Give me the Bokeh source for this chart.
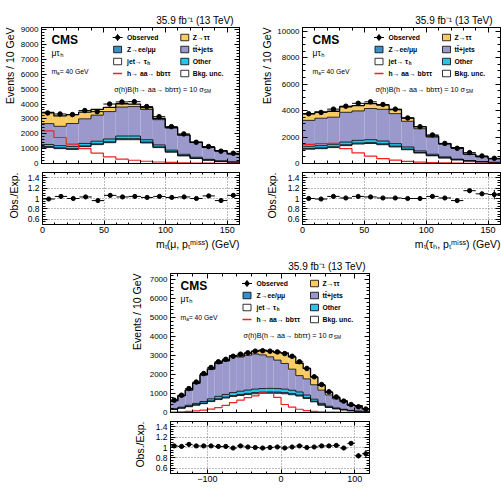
import numpy as np
from bokeh.plotting import figure
from bokeh.models import (Label, Range1d, LinearAxis, SingleIntervalTicker, FixedTicker,
                          CustomJSTickFormatter, Spacer, Title)
from bokeh.layouts import column, row
from bokeh.embed import file_html
from bokeh.resources import INLINE

FONT = "Liberation Sans"
C_ZTT = "#f8cb63"
C_TT = "#9b98cc"
C_OTHER = "#25c6ea"
C_ZLL = "#3a8fc9"
C_FAKE = "#ffffff"
C_SIG = "#ee2222"

# ---------------- data ----------------
# panel 1 : mT(mu, ptmiss), 10 GeV bins from 0 to 160
edges1 = [0, 10, 20, 30, 40, 50, 60, 70, 80, 90, 100, 110, 120, 130, 140, 150, 160]
obs1 = [3400, 3330, 3290, 3560, 3490, 4000, 4140, 4160, 3830, 3150, 2480, 1990, 1430, 1140, 830, 690]
ratio1 = [0.99, 1.04, 1.00, 1.03, 0.96, 1.06, 1.03, 1.04, 1.02, 1.04, 1.02, 1.03, 1.00, 1.05, 0.96, 1.06]
ratio1_err = [0.02, 0.02, 0.02, 0.02, 0.02, 0.02, 0.02, 0.02, 0.02, 0.02, 0.02, 0.025, 0.03, 0.03, 0.035, 0.04]
fake1 = [1080, 1000, 950, 1130, 1270, 1400, 1600, 1600, 1380, 1070, 760, 510, 340, 220, 140, 85]
zll1 = [60, 55, 50, 50, 55, 60, 70, 70, 60, 45, 35, 25, 15, 10, 8, 5]
other1 = [140, 145, 150, 170, 175, 190, 180, 180, 160, 135, 105, 85, 65, 50, 32, 20]
tt1 = [1404, 1302, 1540, 1656, 1755, 1844, 1949, 1980, 2035, 1699, 1481, 1282, 990, 794, 677, 536]
ztt1 = [750, 700, 600, 450, 380, 280, 220, 170, 120, 80, 50, 30, 20, 12, 8, 5]
sig1 = [2200, 1750, 1300, 1000, 700, 450, 300, 220, 150, 100, 70, 50, 35, 25, 18, 12]

# panel 2 : mT(tau_h, ptmiss)
edges2 = [0, 10, 20, 30, 40, 50, 60, 70, 80, 90, 100, 110, 120, 130, 140, 150, 160]
obs2 = [3760, 3860, 4110, 4330, 4550, 4660, 4460, 4110, 3440, 2780, 2160, 1520, 1150, 820, 570, 390]
ratio2 = [1.00, 0.99, 1.04, 1.01, 1.04, 1.03, 1.01, 1.01, 1.00, 1.00, 1.04, 1.01, 0.96, 1.15, 1.09, 1.075]
ratio2_err = [0.02, 0.02, 0.02, 0.02, 0.02, 0.02, 0.02, 0.02, 0.02, 0.02, 0.02, 0.025, 0.03, 0.03, 0.04, 0.09]
fake2 = [1080, 1120, 1200, 1350, 1470, 1510, 1420, 1250, 1040, 790, 580, 410, 270, 180, 115, 75]
zll2 = [60, 60, 65, 70, 70, 70, 70, 60, 50, 40, 30, 25, 15, 10, 7, 5]
other2 = [160, 170, 185, 200, 210, 220, 210, 190, 160, 120, 90, 65, 45, 30, 18, 10]
tt2 = [1960, 2070, 2050, 2250, 2225, 2355, 2395, 2270, 1940, 1680, 1297, 955, 838, 473, 373, 268]
ztt2 = [500, 480, 450, 420, 400, 370, 320, 300, 250, 150, 80, 50, 30, 20, 10, 5]
sig2 = [1450, 1500, 1530, 1120, 800, 550, 370, 250, 160, 100, 60, 40, 25, 15, 10, 6]

# panel 3 : D_zeta, 10 GeV bins from -150 to 120
edges3 = [-150, -140, -130, -120, -110, -100, -90, -80, -70, -60, -50, -40, -30, -20, -10,
          0, 10, 20, 30, 40, 50, 60, 70, 80, 90, 100, 110, 120]
obs3 = [650, 910, 1260, 1600, 2050, 2370, 2670, 2800, 2960, 3070, 3140, 3230, 3250, 3230,
        3190, 3100, 2960, 2670, 2320, 1880, 1470, 1090, 820, 600, 420, 300, 180]
ratio3 = [1.03, 1.02, 1.06, 1.03, 1.03, 1.03, 1.02, 1.02, 0.99, 1.03, 1.01, 1.00, 0.99, 1.00,
          1.01, 0.99, 1.01, 1.03, 1.00, 1.01, 1.03, 1.03, 1.04, 0.99, 1.08, 0.84, 0.88]
ratio3_err = [0.03, 0.025, 0.02, 0.02, 0.02, 0.02, 0.02, 0.02, 0.02, 0.02, 0.02, 0.02, 0.02, 0.02,
              0.02, 0.02, 0.02, 0.02, 0.02, 0.02, 0.025, 0.03, 0.03, 0.035, 0.04, 0.05, 0.07]
fake3 = [160, 225, 305, 385, 465, 575, 680, 760, 840, 895, 945, 985, 1010, 1015, 1010, 985,
         935, 865, 735, 560, 385, 265, 190, 135, 88, 56, 32]
zll3 = [10, 14, 19, 24, 29, 36, 43, 48, 53, 56, 59, 62, 63, 64, 63, 62, 59, 54, 46, 35, 24,
        17, 12, 9, 6, 4, 2]
other3 = [30, 41, 56, 71, 86, 109, 127, 142, 157, 169, 176, 183, 187, 191, 187, 183, 176, 161,
          139, 105, 71, 48, 38, 26, 16, 10, 6]
tt3 = [426, 604, 797, 1055, 1385, 1551, 1733, 1755, 1890, 1801, 1829, 1850, 1773, 1660, 1498,
       1351, 1111, 862, 850, 761, 697, 598, 478, 396, 259, 277, 160]
ztt3 = [5, 8, 12, 18, 25, 30, 35, 40, 50, 60, 100, 150, 250, 300, 400, 550, 650, 650, 550,
        400, 250, 130, 70, 40, 20, 10, 5]
sig3 = [20, 40, 60, 90, 130, 180, 260, 380, 520, 650, 780, 880, 1030, 1000, 800, 420, 280, 170,
        100, 60, 40, 25, 15, 10, 5, 3, 2]

# axis / title texts
lumi_text = "35.9 fb\u207b\u00b9  (13 TeV)"
ylabel_main = "Events / 10 GeV"
ylabel_ratio = "Obs./Exp."
xlabel1 = "m\u209c(\u03bc, p\u209c\u1d50\u2071\u02e2\u02e2) (GeV)"
xlabel2 = "m\u209c(\u03c4\u2095, p\u209c\u1d50\u2071\u02e2\u02e2) (GeV)"

# ---------------- text helpers ----------------
W = {' ': 0.278, '(': 0.333, ')': 0.333, ',': 0.278, '.': 0.278, '/': 0.278, '-': 0.333,
     '=': 0.584, '+': 0.584, 'B': 0.667, 'C': 0.722, 'D': 0.722, 'E': 0.667, 'G': 0.778,
     'M': 0.833, 'O': 0.778, 'S': 0.667, 'T': 0.611, 'V': 0.667, 'Z': 0.611,
     'a': 0.556, 'b': 0.556, 'c': 0.5, 'd': 0.556, 'e': 0.556, 'f': 0.278, 'h': 0.556,
     'i': 0.222, 'j': 0.222, 'k': 0.5, 'm': 0.833, 'n': 0.556, 'o': 0.556, 'p': 0.556,
     'r': 0.333, 's': 0.5, 't': 0.278, 'u': 0.556, 'v': 0.5, 'x': 0.5,
     '\u03bc': 0.576, '\u03c4': 0.45, '\u03c3': 0.6, '\u03b6': 0.45, '\u2192': 1.0, '\u0304': 0.0}


def tw(s, size, bold=False):
    w = sum(W.get(c, 0.556) for c in s) * size
    return w * (1.07 if bold else 1.0)


def dx(g, px):
    return g['x0'] + (px - g['L']) / (g['R'] - g['L']) * (g['x1'] - g['x0'])


def dy(g, py):
    return g['y0'] + (g['B'] - py) / (g['B'] - g['T']) * (g['y1'] - g['y0'])


def lab(p, g, x, y, text, size, bold=False, color="black", align="left", angle=0.0):
    p.add_layout(Label(x=dx(g, x), y=dy(g, y), text=text, text_font=FONT,
                       text_font_size="%.1fpx" % size,
                       text_font_style="bold" if bold else "normal",
                       text_color=color, text_align=align, text_baseline="middle",
                       angle=angle))


def rich(p, g, x, y, pieces, size, bold=False, align="left"):
    ss = size * 0.68

    def pw(pc):
        t, k = pc
        if k == "n":
            return tw(t, size, bold)
        return tw(t, ss, bold)

    total = sum(pw(pc) for pc in pieces)
    cx = x - total if align == "right" else x
    for pc in pieces:
        t, k = pc
        if k == "sub":
            lab(p, g, cx, y + 0.32 * size, t, ss, bold)
        elif k == "sup":
            lab(p, g, cx, y - 0.45 * size, t, ss, bold)
        else:
            lab(p, g, cx, y, t, size, bold)
        cx += pw(pc)


def side_title(p, text, loc, size, align, standoff, offset=0):
    p.add_layout(Title(text=text, align=align, text_font=FONT, text_font_size="%.1fpx" % size,
                       text_font_style="normal", text_color="black", standoff=standoff,
                       offset=offset), loc)


# ---------------- figure helpers ----------------
def make_fig(w, h, g):
    p = figure(width=w, height=h, title=None, x_range=Range1d(g['x0'], g['x1']),
               y_range=Range1d(g['y0'], g['y1']), output_backend="svg", toolbar_location=None,
               min_border_left=g['L'], min_border_right=w - g['R'], min_border_top=g['T'],
               min_border_bottom=h - g['B'])
    p.outline_line_color = "black"
    p.outline_line_width = 1
    p.background_fill_color = "white"
    p.border_fill_color = "white"
    return p


def style_axis(ax, ticker, fmt=None, size="8px", major_in=5, minor_in=3, labels=True, standoff=3):
    ax.ticker = ticker
    ax.major_tick_in = major_in
    ax.major_tick_out = 0
    ax.minor_tick_in = minor_in
    ax.minor_tick_out = 0
    ax.axis_line_color = "black"
    ax.major_tick_line_color = "black"
    ax.minor_tick_line_color = "black"
    if labels:
        if fmt is not None:
            ax.formatter = fmt
        ax.major_label_text_font = FONT
        ax.major_label_text_font_size = size
        ax.major_label_standoff = standoff
        ax.major_label_text_color = "black"
    else:
        ax.formatter = CustomJSTickFormatter(code="return '';")
        ax.major_label_text_font_size = "0px"
        ax.major_label_standoff = 0


def add_blank(p, loc, ticker, major_in, minor_in):
    ax = LinearAxis()
    style_axis(ax, ticker, major_in=major_in, minor_in=minor_in, labels=False)
    p.add_layout(ax, loc)


def draw_main(p, g, edges, obs, layers, sig):
    lo = np.array(edges[:-1], dtype=float)
    hi = np.array(edges[1:], dtype=float)
    bottom = np.zeros(len(lo))
    tops = []
    for vals, color in layers:
        top = bottom + np.array(vals, dtype=float)
        p.quad(left=lo, right=hi, bottom=bottom, top=top, fill_color=color, line_color=None)
        tops.append(top)
        bottom = top
    for i, top in enumerate(tops):
        p.step(x=list(edges), y=list(top) + [top[-1]], mode="after", line_color="black",
               line_width=1.3 if i == len(tops) - 1 else 0.8)
    p.step(x=list(edges), y=list(sig) + [sig[-1]], mode="after", line_color=C_SIG, line_width=1.2)
    cen = (lo + hi) / 2
    p.segment(x0=lo, x1=hi, y0=obs, y1=obs, line_color="black", line_width=1)
    p.scatter(x=cen, y=obs, size=4.5, marker="circle", color="black")


def draw_ratio(p, edges, ratio, err):
    lo = np.array(edges[:-1], dtype=float)
    hi = np.array(edges[1:], dtype=float)
    cen = (lo + hi) / 2
    r = np.array(ratio)
    e = np.array(err)
    p.segment(x0=lo, x1=hi, y0=r, y1=r, line_color="black", line_width=1)
    p.segment(x0=cen, x1=cen, y0=r - e, y1=r + e, line_color="black", line_width=1)
    p.scatter(x=cen, y=r, size=4.2, marker="circle", color="black")


def legend(p, g):
    fx, fy = g['L'], g['T']
    sx = (g['x1'] - g['x0']) / (g['R'] - g['L'])
    sy = (g['y1'] - g['y0']) / (g['B'] - g['T'])
    rows = [fy + 10, fy + 22, fy + 34, fy + 46]
    mx = fx + 76.5
    rx = fx + 144

    def box(cx, cy, color):
        p.rect(x=[dx(g, cx)], y=[dy(g, cy)], width=8 * sx, height=6.5 * sy,
               fill_color=color, line_color="black", line_width=0.8)

    # observed
    p.segment(x0=[dx(g, mx - 5)], x1=[dx(g, mx + 5)], y0=[dy(g, rows[0])], y1=[dy(g, rows[0])],
              line_color="black", line_width=1)
    p.segment(x0=[dx(g, mx)], x1=[dx(g, mx)], y0=[dy(g, rows[0] - 3.5)], y1=[dy(g, rows[0] + 3.5)],
              line_color="black", line_width=1)
    p.scatter(x=[dx(g, mx)], y=[dy(g, rows[0])], size=4, marker="circle", color="black")
    box(mx, rows[1], C_ZLL)
    box(mx, rows[2], C_FAKE)
    p.segment(x0=[dx(g, mx - 4.5)], x1=[dx(g, mx + 4.5)], y0=[dy(g, rows[3])], y1=[dy(g, rows[3])],
              line_color=C_SIG, line_width=1.3)
    tx = fx + 86
    fs = 6.8
    lab(p, g, tx, rows[0], "Observed", fs, True)
    lab(p, g, tx, rows[1], "Z\u2192ee/\u03bc\u03bc", fs, True)
    rich(p, g, tx, rows[2], [("jet\u2192 \u03c4", "n"), ("h", "sub")], fs, True)
    lab(p, g, tx, rows[3], "h\u2192 aa\u2192 bb\u03c4\u03c4", fs, True)
    box(rx, rows[0], C_ZTT)
    box(rx, rows[1], C_TT)
    box(rx, rows[2], C_OTHER)
    box(rx, rows[3], "white")
    tx2 = fx + 152
    lab(p, g, tx2, rows[0], "Z\u2192\u03c4\u03c4", fs, True)
    lab(p, g, tx2, rows[1], "tt\u0304+jets", fs, True)
    lab(p, g, tx2, rows[2], "Other", fs, True)
    lab(p, g, tx2, rows[3], "Bkg. unc.", fs, True)
    rich(p, g, fx + 73, fy + 62,
         [("\u03c3(h)B(h\u2192 aa\u2192 bb\u03c4\u03c4) = 10 \u03c3", "n"), ("SM", "sub")], 7.2)
    # CMS block
    lab(p, g, fx + 10, fy + 12, "CMS", 12, True)
    rich(p, g, fx + 10, fy + 25, [("\u03bc\u03c4", "n"), ("h", "sub")], 8.5)
    rich(p, g, fx + 10, fy + 44, [("m", "n"), ("a", "sub"), (" = 40 GeV", "n")], 6.8)


def main_panel(w, h, g, edges, obs, layers, sig, yint, yminor, xint, xminor, ylab_so, title_dx):
    p = make_fig(w, h, g)
    p.grid.visible = False
    style_axis(p.yaxis[0], SingleIntervalTicker(interval=yint, num_minor_ticks=yminor), size="8px",
               major_in=5, minor_in=3)
    style_axis(p.xaxis[0], SingleIntervalTicker(interval=xint, num_minor_ticks=xminor),
               major_in=5, minor_in=3, labels=False)
    add_blank(p, "above", SingleIntervalTicker(interval=xint, num_minor_ticks=xminor), 5, 3)
    add_blank(p, "right", SingleIntervalTicker(interval=yint, num_minor_ticks=yminor), 5, 3)
    draw_main(p, g, edges, obs, layers, sig)
    legend(p, g)
    side_title(p, lumi_text, "above", 10, "right", 4, title_dx)
    side_title(p, ylabel_main, "left", 10.5, "right", ylab_so)
    return p


RT_MAJOR = [0.6, 0.8, 1.0, 1.2, 1.4]
RT_MINOR = [0.5, 0.55, 0.65, 0.7, 0.75, 0.85, 0.9, 0.95, 1.05, 1.1, 1.15, 1.25, 1.3, 1.35, 1.45, 1.5]


def ratio_panel(w, h, g, edges, ratio, err, xint, xminor, xfmt, ylab_so):
    p = make_fig(w, h, g)
    style_axis(p.yaxis[0], FixedTicker(ticks=RT_MAJOR, minor_ticks=RT_MINOR),
               fmt=CustomJSTickFormatter(code="return String(tick);"),
               size="8.5px", major_in=5, minor_in=3)
    style_axis(p.xaxis[0], SingleIntervalTicker(interval=xint, num_minor_ticks=xminor), fmt=xfmt,
               size="9px", major_in=4, minor_in=2, standoff=2)
    add_blank(p, "above", SingleIntervalTicker(interval=xint, num_minor_ticks=xminor), 4, 2)
    add_blank(p, "right", FixedTicker(ticks=RT_MAJOR, minor_ticks=RT_MINOR), 5, 3)
    p.grid.grid_line_color = "#555555"
    p.grid.grid_line_dash = "1 2"
    p.grid.grid_line_width = 0.8
    draw_ratio(p, edges, ratio, err)
    side_title(p, ylabel_ratio, "left", 10.5, "right", ylab_so)
    return p


xfmt_plain = CustomJSTickFormatter(code="return String(tick);")
xfmt_minus = CustomJSTickFormatter(code="return tick < 0 ? '\u2212' + Math.abs(tick) : String(tick);")

g1m = dict(L=40, T=27, R=239, B=163, x0=0, x1=160, y0=0, y1=9150)
g2m = dict(L=52, T=27, R=250, B=163, x0=0, x1=160, y0=0, y1=10280)
g1r = dict(L=40, T=4, R=239, B=56, x0=0, x1=160, y0=0.5, y1=1.5)
g2r = dict(L=52, T=4, R=250, B=56, x0=0, x1=160, y0=0.5, y1=1.5)
g3m = dict(L=52, T=23, R=251, B=162, x0=-150, x1=120, y0=0, y1=7316)
g3r = dict(L=52, T=4, R=251, B=56, x0=-150, x1=120, y0=0.5, y1=1.5)

p1m = main_panel(250, 168, g1m, edges1, obs1,
                 [(fake1, C_FAKE), (zll1, C_ZLL), (other1, C_OTHER), (tt1, C_TT), (ztt1, C_ZTT)],
                 sig1, 1000, 5, 50, 5, 3, 3)
p2m = main_panel(251, 168, g2m, edges2, obs2,
                 [(fake2, C_FAKE), (zll2, C_ZLL), (other2, C_OTHER), (tt2, C_TT), (ztt2, C_ZTT)],
                 sig2, 2000, 4, 50, 5, 4, 5)
p3m = main_panel(262, 167, g3m, edges3, obs3,
                 [(fake3, C_FAKE), (zll3, C_ZLL), (other3, C_OTHER), (tt3, C_TT), (ztt3, C_ZTT)],
                 sig3, 1000, 5, 100, 5, 8, 1)

p1r = ratio_panel(250, 82, g1r, edges1, ratio1, ratio1_err, 50, 5, xfmt_plain, 10)
p2r = ratio_panel(251, 82, g2r, edges2, ratio2, ratio2_err, 50, 5, xfmt_plain, 14)
p3r = ratio_panel(262, 72, g3r, edges3, ratio3, ratio3_err, 100, 5, xfmt_minus, 13)

side_title(p1r, xlabel1, "below", 10.5, "right", 0, 0)
side_title(p2r, xlabel2, "below", 10.5, "right", 0, 0)

layout = column(row(p1m, p2m), row(p1r, p2r),
                row(Spacer(width=118, height=167), p3m),
                row(Spacer(width=118, height=72), p3r))

open("out.html", "w").write(file_html(layout, INLINE))
